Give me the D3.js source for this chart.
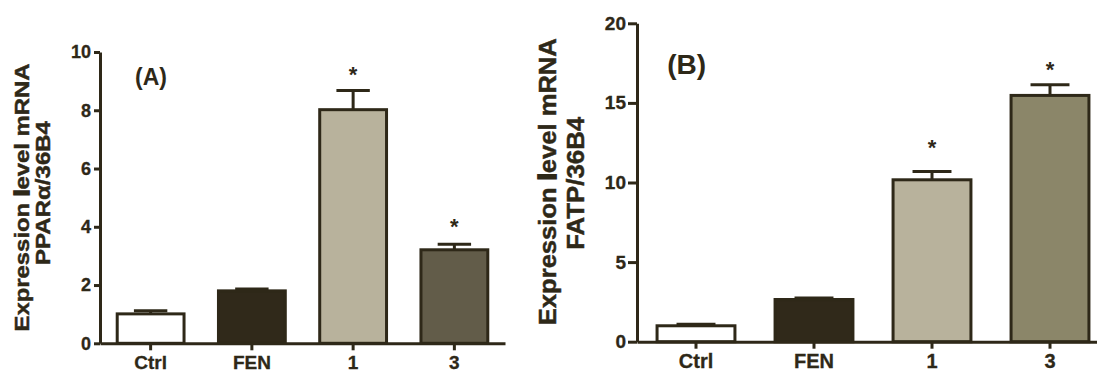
<!DOCTYPE html>
<html><head><meta charset="utf-8">
<script src="https://cdn.jsdelivr.net/npm/d3@7"></script>
<style>body{margin:0;background:#fff}svg{display:block}text{font-family:"Liberation Sans",Arial,sans-serif;font-weight:bold;fill:#2e2818}</style>
</head><body><svg id="c" width="1097" height="372"></svg>
<script>
const categories = ["Ctrl", "FEN", "1", "3"];
const pparValues = [1.01, 1.80, 8.02, 3.21];
const pparErrors = [0.11, 0.06, 0.66, 0.19];
const pparStars = [null, null, 9.39, 4.18];
const pparTicks = [0, 2, 4, 6, 8, 10];
const fatpValues = [1.0, 2.65, 10.17, 15.47];
const fatpErrors = [0.1, 0.1, 0.52, 0.67];
const fatpStars = [null, null, 12.48, 17.38];
const fatpTicks = [0, 5, 10, 15, 20];

const ink = "#2e2818";
const svg = d3.select("#c");

function panel(cfg) {
  const g = svg.append("g");
  const x = d3.scaleBand().domain(categories).range(cfg.xr).paddingInner(0.34).paddingOuter(0.17);
  const y = d3.scaleLinear().domain([0, cfg.ticks[cfg.ticks.length - 1]]).range(cfg.yr);
  const data = categories.map((c, i) => ({c, v: cfg.values[i], e: cfg.errors[i], s: cfg.stars[i], fill: cfg.fills[i]}));
  // error bars
  const eb = g.selectAll(".eb").data(data).join("g");
  eb.append("line").attr("x1", d => x(d.c) + x.bandwidth() / 2).attr("x2", d => x(d.c) + x.bandwidth() / 2)
    .attr("y1", d => y(d.v)).attr("y2", d => y(d.v + d.e)).attr("stroke", ink).attr("stroke-width", 3);
  eb.append("line").attr("x1", d => x(d.c) + x.bandwidth() * 0.25).attr("x2", d => x(d.c) + x.bandwidth() * 0.75)
    .attr("y1", d => y(d.v + d.e)).attr("y2", d => y(d.v + d.e)).attr("stroke", ink).attr("stroke-width", 3);
  // bars
  g.selectAll(".bar").data(data).join("rect")
    .attr("x", d => x(d.c)).attr("width", x.bandwidth())
    .attr("y", d => y(d.v)).attr("height", d => y(0) - y(d.v))
    .attr("fill", d => d.fill).attr("stroke", ink).attr("stroke-width", 3);
  // stars
  g.selectAll(".star").data(data.filter(d => d.s != null)).join("text")
    .attr("x", d => x(d.c) + x.bandwidth() / 2).attr("y", d => y(d.s) + 12)
    .attr("text-anchor", "middle").attr("font-size", 22).text("*");
  // axes
  const ya = g.append("g").attr("transform", `translate(${cfg.xr[0]},0)`)
    .call(d3.axisLeft(y).tickValues(cfg.ticks).tickSize(cfg.tickLen).tickSizeOuter(0).tickPadding(cfg.tickPad));
  ya.select(".domain").attr("stroke", ink).attr("stroke-width", 3);
  ya.selectAll(".tick line").attr("stroke", ink).attr("stroke-width", 3);
  ya.selectAll(".tick text").attr("font-size", cfg.tickFont).attr("font-family", null).attr("fill", ink)
    .attr("stroke", ink).attr("stroke-width", 0.3);
  const xa = g.append("g").attr("transform", `translate(0,${cfg.yr[0]})`)
    .call(d3.axisBottom(x).tickSize(7).tickSizeOuter(0).tickPadding(5));
  xa.select(".domain").attr("stroke", ink).attr("stroke-width", 3);
  xa.selectAll(".tick line").attr("stroke", ink).attr("stroke-width", 3);
  xa.selectAll(".tick text").attr("font-size", cfg.catFont).attr("font-family", null).attr("fill", ink)
    .attr("stroke", ink).attr("stroke-width", 0.3);
  ya.attr("font-family", null); xa.attr("font-family", null);
  // y titles
  const t1 = g.append("text").attr("transform", `translate(${cfg.t1[0]},${cfg.t1[1]}) rotate(-90)`)
    .attr("text-anchor", "middle").attr("font-size", cfg.titleFont)
    .attr("stroke", ink).attr("stroke-width", 0.45)
    .attr("textLength", cfg.t1[2]).attr("lengthAdjust", "spacingAndGlyphs");
  t1.append("tspan").text("Expression ");
  t1.append("tspan").text("l").attr("stroke-width", 1.8);
  t1.append("tspan").text("evel mRNA");
  g.append("text").attr("transform", `translate(${cfg.t2[0]},${cfg.t2[1]}) rotate(-90)`)
    .attr("text-anchor", "middle").attr("font-size", cfg.titleFont)
    .attr("stroke", ink).attr("stroke-width", 0.45)
    .attr("textLength", cfg.t2[2]).attr("lengthAdjust", "spacingAndGlyphs").text(cfg.title2);
  g.append("text").attr("x", cfg.lab[0]).attr("y", cfg.lab[1]).attr("text-anchor", "middle")
    .attr("font-size", cfg.labFont).text(cfg.label);
}

panel({xr: [100, 505], yr: [343.3, 52], ticks: pparTicks, values: pparValues, errors: pparErrors, stars: pparStars,
  fills: ["#ffffff", "#30291a", "#b8b29c", "#625c49"], tickLen: 6, tickPad: 3, tickFont: 18, catFont: 19,
  titleFont: 21, t1: [28.5, 197.5, 268], t2: [50, 193, 144], title2: "PPARα/36B4", lab: [151, 85], labFont: 23, label: "(A)"});
panel({xr: [637, 1109], yr: [341.7, 23.3], ticks: fatpTicks, values: fatpValues, errors: fatpErrors, stars: fatpStars,
  fills: ["#ffffff", "#30291a", "#b8b29c", "#8b8669"], tickLen: 9, tickPad: 2, tickFont: 19, catFont: 20,
  titleFont: 23, t1: [555.5, 181.7, 287], t2: [583.5, 183.3, 133], title2: "FATP/36B4", lab: [686.7, 74], labFont: 28, label: "(B)"});
</script></body></html>
